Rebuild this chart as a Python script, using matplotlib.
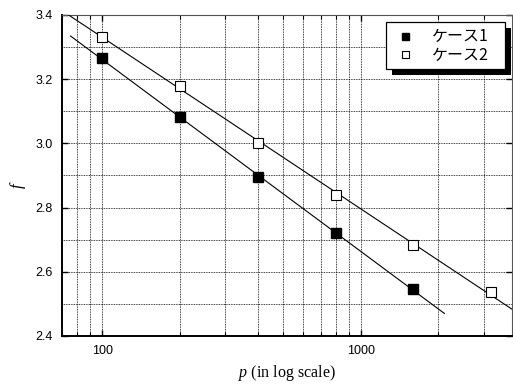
import numpy as np
import matplotlib.pyplot as plt
import matplotlib.patches as mpatches
import matplotlib.transforms as mtransforms
from matplotlib.ticker import FixedLocator, NullFormatter, MultipleLocator

plt.rcParams['font.family'] = ['Liberation Sans', 'DejaVu Sans']
plt.rcParams['mathtext.fontset'] = 'custom'
plt.rcParams['mathtext.it'] = 'Liberation Serif:italic'
plt.rcParams['mathtext.rm'] = 'Liberation Serif'

# data
p1 = [100, 200, 400, 800, 1600]
f1 = [3.265, 3.081, 2.896, 2.722, 2.545]
p2 = [100, 200, 400, 800, 1600, 3200]
f2 = [3.332, 3.179, 3.002, 2.840, 2.683, 2.536]
labels = ['ケース1', 'ケース2']
line1_range = [75.5, 2110]
line2_range = [70, 3850]

fig = plt.figure(figsize=(5.13, 3.85), dpi=100)
ax = fig.add_axes([0.1209, 0.1273, 0.877, 0.8338])

# fitted lines (log-linear least squares)
for p, f, rng in [(p1, f1, line1_range), (p2, f2, line2_range)]:
    k, b = np.polyfit(np.log10(p), f, 1)
    xs = np.array(rng)
    ax.plot(xs, k * np.log10(xs) + b, color='black', lw=0.8, zorder=3)

ax.plot(p1, f1, 's', color='black', ms=7.2, mec='black', label=labels[0], zorder=4)
ax.plot(p2, f2, 's', color='black', mfc='white', mec='black', mew=0.8, ms=7.2,
        label=labels[1], zorder=4)

ax.set_xscale('log')
ax.set_xlim(70, 3850)
ax.set_ylim(2.4, 3.4)
ax.xaxis.set_major_locator(FixedLocator([100, 1000]))
ax.xaxis.set_minor_locator(FixedLocator([70, 80, 90, 200, 300, 400, 500, 600, 700,
                                         800, 900, 2000, 3000]))
ax.xaxis.set_minor_formatter(NullFormatter())
ax.set_xticklabels(['100', '1000'])
ax.yaxis.set_major_locator(MultipleLocator(0.2))
ax.yaxis.set_minor_locator(MultipleLocator(0.1))
ax.yaxis.set_major_formatter(plt.FormatStrFormatter('%.1f'))

ax.grid(True, which='both', color='black', ls=(0, (1, 1)), lw=0.6)
ax.tick_params(which='both', direction='in', top=True, right=True, labelsize=9)
ax.tick_params(which='major', length=4, width=1)
ax.tick_params(which='minor', length=3, width=0.8)
ax.tick_params(axis='y', which='minor', length=0)
ax.tick_params(axis='x', pad=6.5)
ax.tick_params(axis='y', pad=6.5)

for side in ['left', 'bottom']:
    ax.spines[side].set_linewidth(1.4)
for side in ['top', 'right']:
    ax.spines[side].set_linewidth(0.8)
    ax.spines[side].set_color('#555555')

ax.set_xlabel('$p$ (in log scale)', fontfamily='Liberation Serif', fontsize=11.5)
ax.xaxis.set_label_coords(0.5, -0.085)
ax.set_ylabel('$f$', fontsize=12)
ax.yaxis.set_label_coords(-0.075, 0.47)

leg = ax.legend(loc='upper right', bbox_to_anchor=(0.7195, 0, 0.2643, 0.977),
                mode='expand', borderaxespad=0,
                fancybox=False, edgecolor='black', framealpha=1,
                prop={'family': ['Noto Sans CJK JP', 'DejaVu Sans'], 'size': 11.5},
                handlelength=1.65, handletextpad=0.86, borderpad=0.36, labelspacing=0.1,
                markerscale=0.7)
leg.get_frame().set_linewidth(0.9)

# hard drop shadow behind the legend box
fig.canvas.draw()
bb = leg.get_frame().get_window_extent()
shadow = mpatches.Rectangle((bb.x0 + 6, bb.y0 - 6), bb.width, bb.height,
                            transform=mtransforms.IdentityTransform(),
                            facecolor='black', edgecolor='none', zorder=4.9, clip_on=False)
ax.add_patch(shadow)

fig.savefig('out.png', dpi=100)
